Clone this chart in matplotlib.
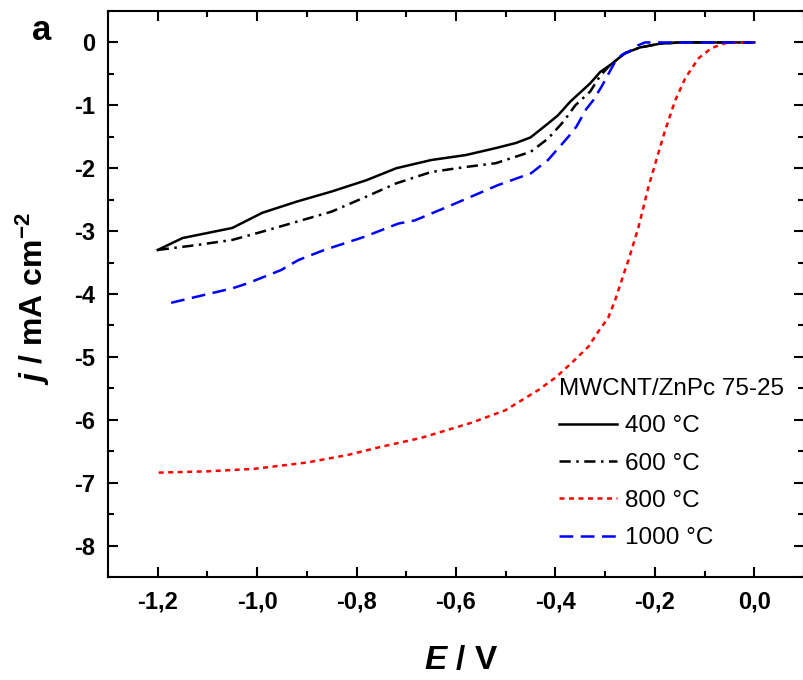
import numpy as np
import matplotlib
matplotlib.use("Agg")
import matplotlib.pyplot as plt
from matplotlib.ticker import MultipleLocator, FuncFormatter

plt.rcParams['font.family'] = ['Liberation Sans', 'DejaVu Sans']
plt.rcParams['mathtext.fontset'] = 'custom'
plt.rcParams['mathtext.rm'] = 'Liberation Sans:bold'
plt.rcParams['mathtext.it'] = 'Liberation Sans:bold:italic'
plt.rcParams['mathtext.bf'] = 'Liberation Sans:bold'

# data (E in V, j in mA cm-2)
e_400 = [-1.20, -1.15, -1.05, -0.99, -0.92, -0.85, -0.78, -0.72, -0.65, -0.58, -0.52,
         -0.48, -0.45, -0.415, -0.395, -0.37, -0.33, -0.31, -0.29, -0.26, -0.23, -0.19,
         -0.15, -0.10, 0.0]
j_400 = [-3.30, -3.11, -2.95, -2.71, -2.53, -2.37, -2.19, -2.00, -1.87, -1.79, -1.68,
         -1.60, -1.51, -1.29, -1.16, -0.94, -0.65, -0.47, -0.36, -0.17, -0.08, -0.02,
         0.0, 0.0, 0.0]

e_600 = [-1.20, -1.12, -1.05, -0.99, -0.92, -0.85, -0.78, -0.72, -0.65, -0.58, -0.52,
         -0.45, -0.415, -0.384, -0.36, -0.33, -0.31, -0.29, -0.26, -0.23, -0.19, -0.15, 0.0]
j_600 = [-3.30, -3.22, -3.14, -3.01, -2.85, -2.69, -2.45, -2.24, -2.06, -1.98, -1.92,
         -1.74, -1.53, -1.26, -1.00, -0.78, -0.53, -0.36, -0.17, -0.08, -0.02, 0.0, 0.0]

e_800 = [-1.198, -1.10, -1.006, -0.90, -0.818, -0.751, -0.671, -0.57, -0.501, -0.435,
         -0.40, -0.368, -0.334, -0.314, -0.294, -0.28, -0.26, -0.253, -0.233, -0.213,
         -0.193, -0.179, -0.159, -0.139, -0.112, -0.086, -0.058, -0.03, 0.0]
j_800 = [-6.84, -6.82, -6.78, -6.68, -6.56, -6.43, -6.29, -6.05, -5.85, -5.53,
         -5.33, -5.10, -4.84, -4.60, -4.38, -4.10, -3.62, -3.46, -2.94, -2.30,
         -1.76, -1.39, -0.92, -0.57, -0.25, -0.09, -0.01, 0.0, 0.0]

e_1000 = [-1.173, -1.12, -1.05, -1.019, -0.952, -0.917, -0.865, -0.784, -0.716, -0.683,
          -0.616, -0.516, -0.449, -0.415, -0.374, -0.358, -0.338, -0.324, -0.307, -0.294,
          -0.28, -0.267, -0.253, -0.235, -0.22, -0.15, 0.0]
j_1000 = [-4.14, -4.04, -3.91, -3.83, -3.62, -3.46, -3.30, -3.09, -2.88, -2.83,
          -2.61, -2.27, -2.08, -1.87, -1.50, -1.34, -1.06, -0.92, -0.70, -0.51,
          -0.31, -0.20, -0.15, -0.05, 0.0, 0.0, 0.0]

labels = ['400 °C', '600 °C', '800 °C', '1000 °C']

fig = plt.figure(figsize=(8.04, 6.8), dpi=100)
ax = fig.add_axes([108 / 804, 1 - 577 / 680, 696 / 804, 566 / 680])

lw = 1.8
ax.plot(e_400, j_400, color='black', lw=lw, ls='-', label=labels[0])
ax.plot(e_600, j_600, color='black', lw=lw, ls=(0, (4.5, 2.2, 1, 2.2)), label=labels[1])
ax.plot(e_800, j_800, color='red', lw=lw, ls=(0, (2, 1.8)), label=labels[2])
ax.plot(e_1000, j_1000, color='blue', lw=lw, ls=(0, (5.5, 3)), label=labels[3])

ax.set_xlim(-1.3, 0.1)
ax.set_ylim(-8.5, 0.5)
ax.xaxis.set_major_locator(MultipleLocator(0.2))
ax.xaxis.set_minor_locator(MultipleLocator(0.1))
ax.yaxis.set_major_locator(MultipleLocator(1))
ax.yaxis.set_minor_locator(MultipleLocator(0.5))

def fmt_x(v, pos):
    s = f"{v:.1f}".replace('.', ',')
    return '0,0' if s == '-0,0' else s

def fmt_y(v, pos):
    s = f"{v:.0f}"
    return '0' if s == '-0' else s

ax.xaxis.set_major_formatter(FuncFormatter(fmt_x))
ax.yaxis.set_major_formatter(FuncFormatter(fmt_y))

for sp in ax.spines.values():
    sp.set_linewidth(1.5)
ax.tick_params(which='both', direction='in', top=True, right=True, width=1.5)
ax.tick_params(which='major', length=7.5)
ax.tick_params(which='minor', length=4.5)
ax.tick_params(axis='x', which='major', pad=10)
ax.tick_params(axis='y', which='major', pad=9)
for t in ax.get_xticklabels() + ax.get_yticklabels():
    t.set_fontsize(17)
    t.set_fontweight('bold')

ax.set_xlabel(r'$\mathit{E}$ / V', fontsize=24, fontweight='bold')
ax.xaxis.label.set_va('center')
ax.xaxis.set_label_coords(0.507, -0.147)
ax.set_ylabel(r'$\mathit{j}$ / mA cm$^{-2}$', fontsize=23, fontweight='bold')
ax.yaxis.label.set_va('center')
ax.yaxis.set_label_coords(-0.108, 0.491)

fig.text(42 / 804, 1 - 31 / 680, 'a', fontsize=25, fontweight='bold', ha='center', va='center')

leg = ax.legend(title='MWCNT/ZnPc 75-25', loc='upper left',
                bbox_to_anchor=(559 / 804, 1 - 378 / 680), bbox_transform=fig.transFigure,
                frameon=False, fontsize=17.5, title_fontsize=17.5, alignment='left',
                handlelength=2.4, handletextpad=0.3, labelspacing=0.63,
                borderpad=0, borderaxespad=0)

fig.savefig('out.png', dpi=100)
